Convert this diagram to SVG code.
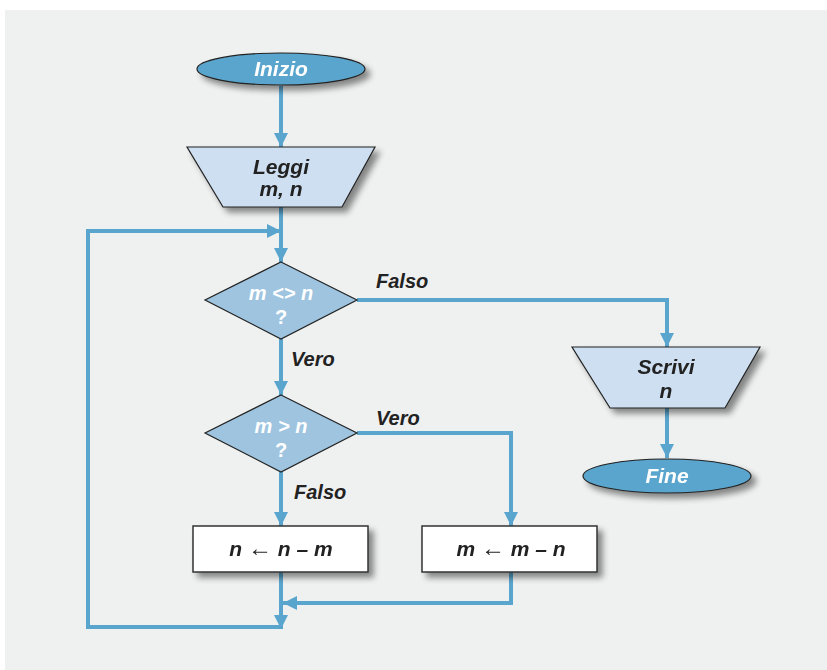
<svg xmlns="http://www.w3.org/2000/svg" width="827" height="670" viewBox="0 0 827 670">
<defs>
<filter id="sh" x="-20%" y="-20%" width="150%" height="160%">
<feGaussianBlur in="SourceAlpha" stdDeviation="3"/>
<feOffset dx="5" dy="5" result="b"/>
<feComponentTransfer><feFuncA type="linear" slope="0.45"/></feComponentTransfer>
<feMerge><feMergeNode/><feMergeNode in="SourceGraphic"/></feMerge>
</filter>
<marker id="ah" viewBox="0 0 14 14" markerWidth="14" markerHeight="14" refX="14" refY="7" orient="auto" markerUnits="userSpaceOnUse">
<path d="M0,0 L14,7 L0,14 z" fill="#5aa5cd"/>
</marker>
<style>
.term{fill:#5aa5cd;stroke:#222;stroke-width:1.2}
.io{fill:#cddff0;stroke:#222;stroke-width:1.2}
.dec{fill:#9ec4df;stroke:#222;stroke-width:1.2}
.proc{fill:#fff;stroke:#333;stroke-width:1.5}
.c{fill:none;stroke:#5aa5cd;stroke-width:4}
text{font-family:"Liberation Sans",Arial,sans-serif;font-style:italic;font-weight:bold}
.w{fill:#fff;font-size:21px}
.d{fill:#fff;font-size:20px}
.q{font-style:normal}
.k{fill:#222;font-size:21px}
.lab{fill:#222;font-size:20px}
.p{fill:#222;font-size:21px}
.arr{font-style:normal;font-weight:normal;font-size:24px}
</style>
</defs>
<rect x="0" y="0" width="827" height="670" fill="#fff"/>
<rect x="5" y="10" width="822" height="660" fill="#eff0f0"/>

<g id="connectors">
<path class="c" d="M281,86 V147" marker-end="url(#ah)"/>
<path class="c" d="M281,207 V262" marker-end="url(#ah)"/>
<path class="c" d="M281,627 H88 V231 H281" marker-end="url(#ah)"/>
<path class="c" d="M357,300 H667 V347" marker-end="url(#ah)"/>
<path class="c" d="M281,339 V395" marker-end="url(#ah)"/>
<path class="c" d="M357,433 H511 V526" marker-end="url(#ah)"/>
<path class="c" d="M281,472 V526" marker-end="url(#ah)"/>
<path class="c" d="M281,572 V629" marker-end="url(#ah)"/>
<path class="c" d="M511,572 V603 H283" marker-end="url(#ah)"/>
<path class="c" d="M667,408 V458" marker-end="url(#ah)"/>
<text class="lab" x="376" y="288">Falso</text>
<text class="lab" x="291" y="366">Vero</text>
<text class="lab" x="376" y="425">Vero</text>
<text class="lab" x="294" y="499">Falso</text>
</g>

<g id="inizio" filter="url(#sh)">
<ellipse class="term" cx="281" cy="69" rx="84" ry="16"/>
<text class="w" x="281" y="76" text-anchor="middle">Inizio</text>
</g>

<g id="leggi" filter="url(#sh)">
<polygon class="io" points="187,147 375,147 342,207 223,207"/>
<text class="k" x="281" y="174" text-anchor="middle">Leggi</text>
<text class="k" x="281" y="196" text-anchor="middle">m, n</text>
</g>

<g id="cond1">
<polygon class="dec" points="281,262 357,300 281,339 205,300"/>
<text class="d" x="281" y="300" text-anchor="middle">m &lt;&gt; n</text>
<text class="d q" x="281" y="324" text-anchor="middle">?</text>
</g>

<g id="cond2">
<polygon class="dec" points="281,395 357,433 281,472 205,433"/>
<text class="d" x="281" y="433" text-anchor="middle">m &gt; n</text>
<text class="d q" x="281" y="457" text-anchor="middle">?</text>
</g>

<g id="box1" filter="url(#sh)">
<rect class="proc" x="193" y="526" width="175" height="46"/>
<text class="p" x="281" y="556" text-anchor="middle">n <tspan class="arr">←</tspan>  n – m</text>
</g>

<g id="box2" filter="url(#sh)">
<rect class="proc" x="422" y="526" width="175" height="46"/>
<text class="p" x="511" y="556" text-anchor="middle">m <tspan class="arr">←</tspan>  m – n</text>
</g>

<g id="scrivi" filter="url(#sh)">
<polygon class="io" points="572,347 760,347 725,408 610,408"/>
<text class="k" x="666" y="374" text-anchor="middle">Scrivi</text>
<text class="k" x="666" y="398" text-anchor="middle">n</text>
</g>

<g id="fine" filter="url(#sh)">
<ellipse class="term" cx="667" cy="476" rx="84" ry="17"/>
<text class="w" x="667" y="483" text-anchor="middle">Fine</text>
</g>
</svg>
